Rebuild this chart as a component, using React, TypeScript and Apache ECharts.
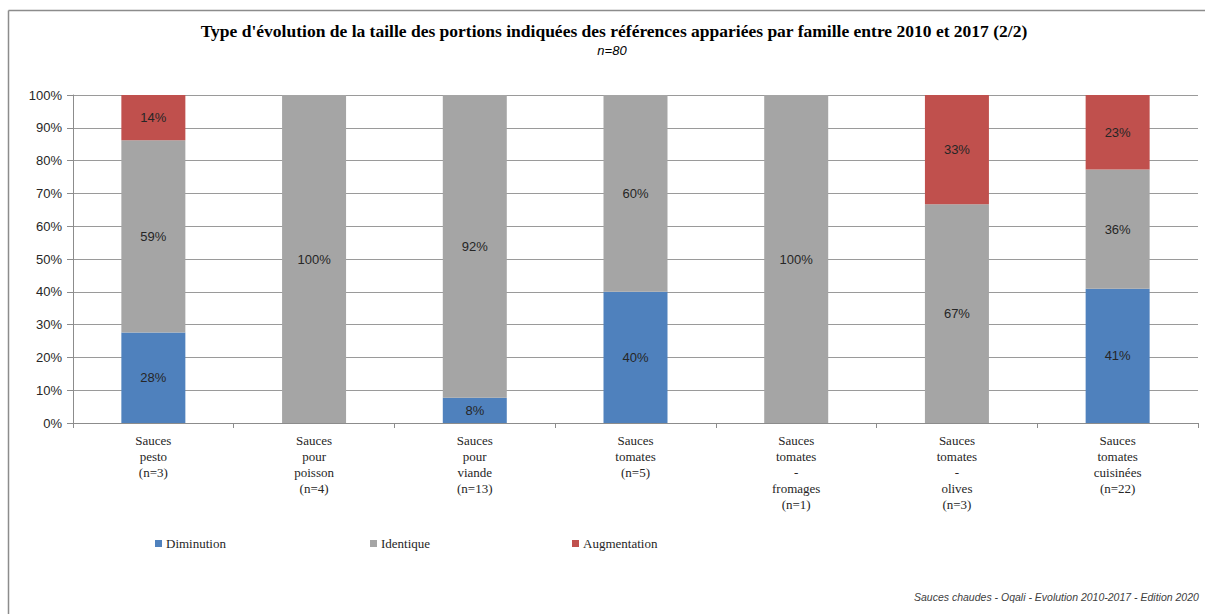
import React, { useEffect, useRef } from "react";
import * as echarts from "echarts";

const categories = [
  "Sauces\npesto\n(n=3)",
  "Sauces\npour\npoisson\n(n=4)",
  "Sauces\npour\nviande\n(n=13)",
  "Sauces\ntomates\n(n=5)",
  "Sauces\ntomates\n-\nfromages\n(n=1)",
  "Sauces\ntomates\n-\nolives\n(n=3)",
  "Sauces\ntomates\ncuisinées\n(n=22)",
];
const diminution = [27.6, 0, 7.7, 40, 0, 0, 40.9];
const identique = [58.6, 100, 92.3, 60, 100, 66.7, 36.4];
const augmentation = [13.8, 0, 0, 0, 0, 33.3, 22.7];
const yTicks = [0, 10, 20, 30, 40, 50, 60, 70, 80, 90, 100];

const serif = "'Liberation Serif', 'DejaVu Serif', serif";
const sans = "'Liberation Sans', 'DejaVu Sans', sans-serif";

export default function App() {
  const ref = useRef<HTMLDivElement>(null);
  useEffect(() => {
    document.body.style.margin = "0";
    document.body.style.overflow = "hidden";
    if (!ref.current) return;
    const chart = echarts.init(ref.current, null, { renderer: "svg" });
    const label = {
      show: true,
      position: "inside",
      color: "#262626",
      fontFamily: sans,
      fontSize: 13,
      formatter: (p: any) => (p.value > 0 ? Math.round(p.value) + "%" : ""),
    };
    const legendBase = (name: string, left: number) => ({
      data: [name],
      left,
      top: 537,
      padding: 0,
      itemWidth: 7,
      itemHeight: 7,
      itemGap: 4,
      icon: "rect",
      textStyle: { fontFamily: serif, fontSize: 13, color: "#262626", padding: [0, 0, 0, -1] },
      selectedMode: false,
    });
    chart.setOption({
      animation: false,
      grid: { left: 73, right: 7, top: 95, bottom: 191, containLabel: false },
      legend: [
        legendBase("Diminution", 155),
        legendBase("Identique", 370),
        legendBase("Augmentation", 572),
      ],
      graphic: [
        {
          type: "line",
          shape: { x1: 8.5, y1: 10.5, x2: 8.5, y2: 614 },
          style: { stroke: "#8c8c8c", lineWidth: 1.5 },
          silent: true,
        },
        {
          type: "line",
          shape: { x1: 8.5, y1: 10.5, x2: 1205, y2: 10.5 },
          style: { stroke: "#8c8c8c", lineWidth: 1.5 },
          silent: true,
        },
        {
          type: "text",
          x: 614,
          y: 31,
          style: {
            text: "Type d'évolution de la taille des portions indiquées des références appariées par famille entre 2010 et 2017 (2/2)",
            fontFamily: serif,
            fontWeight: "bold",
            fontSize: 17.5,
            fill: "#000",
            align: "center",
            verticalAlign: "middle",
          },
        },
        {
          type: "text",
          x: 612,
          y: 50,
          style: {
            text: "n=80",
            fontFamily: sans,
            fontStyle: "italic",
            fontSize: 13,
            fill: "#000",
            align: "center",
            verticalAlign: "middle",
          },
        },
        {
          type: "text",
          x: 914,
          y: 597,
          style: {
            text: "Sauces chaudes - Oqali - Evolution 2010-2017 - Edition 2020",
            fontFamily: sans,
            fontStyle: "italic",
            fontSize: 10.5,
            fill: "#404040",
            align: "left",
            verticalAlign: "middle",
          },
        },
      ],
      xAxis: {
        type: "category",
        data: categories,
        axisLine: { show: true, lineStyle: { color: "#8c8c8c" } },
        axisTick: { show: true, length: 5, interval: 0, lineStyle: { color: "#8c8c8c" } },
        axisLabel: {
          interval: 0,
          margin: 9,
          fontFamily: serif,
          fontSize: 13,
          lineHeight: 16,
          color: "#262626",
          align: "center",
        },
      },
      yAxis: {
        type: "value",
        min: yTicks[0],
        max: yTicks[yTicks.length - 1],
        interval: 10,
        axisLine: { show: true, lineStyle: { color: "#8c8c8c" } },
        axisTick: { show: true, length: 6, lineStyle: { color: "#8c8c8c" } },
        axisLabel: {
          formatter: "{value}%",
          fontFamily: sans,
          fontSize: 13,
          color: "#262626",
          margin: 11,
        },
        splitLine: { show: true, lineStyle: { color: "#9a9a9a" } },
      },
      series: [
        {
          name: "Diminution",
          type: "bar",
          stack: "total",
          data: diminution,
          barWidth: 64,
          itemStyle: { color: "#4F81BD" },
          label,
        },
        {
          name: "Identique",
          type: "bar",
          stack: "total",
          data: identique,
          barWidth: 64,
          itemStyle: { color: "#A5A5A5" },
          label,
        },
        {
          name: "Augmentation",
          type: "bar",
          stack: "total",
          data: augmentation,
          barWidth: 64,
          itemStyle: { color: "#C0504D" },
          label,
        },
      ],
    });
    return () => chart.dispose();
  }, []);
  return <div ref={ref} style={{ width: 1205, height: 614 }} />;
}
